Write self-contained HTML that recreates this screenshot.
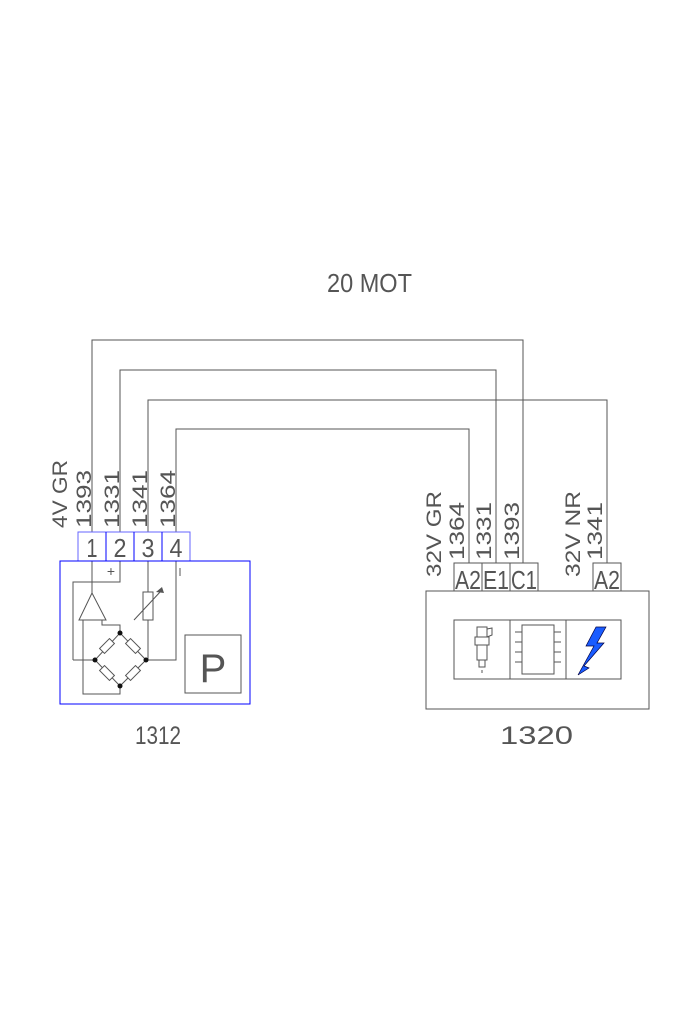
<!DOCTYPE html>
<html><head><meta charset="utf-8"><style>
html,body{margin:0;padding:0;background:#fff;}
svg{display:block;}
text{font-family:"Liberation Sans",sans-serif;fill:#555;}
</style></head><body>
<svg width="700" height="1020" viewBox="0 0 700 1020" xmlns="http://www.w3.org/2000/svg">
<g fill="none" stroke="#555" stroke-width="1">
<polyline points="92,532 92,340 523,340 523,563"/>
<polyline points="120,532 120,370 496,370 496,563"/>
<polyline points="148,532 148,400 607,400 607,563"/>
<polyline points="176,532 176,429 469,429 469,563"/>
<line x1="92" y1="561" x2="92" y2="593"/>
<polyline points="73,660 73,582 120,582 120,561"/>
<polygon points="92,593 79,620 106,620"/>
<polyline points="102,620 102,625 120,625 120,633"/>
<polyline points="83,620 83,694 120,694 120,686"/>
<line x1="73" y1="660" x2="95" y2="660"/>
<polygon points="120,633 95,660 120,686 146,660"/>
<line x1="148" y1="561" x2="148" y2="660"/>
<rect x="143" y="592" width="10" height="28" fill="#fff"/>
<line x1="134" y1="620" x2="161" y2="591"/>
<polyline points="146,660 176,660 176,561"/>
<rect x="185" y="635" width="56" height="58"/>
<line x1="180" y1="568" x2="180" y2="576"/>
<rect x="454" y="563" width="28" height="28"/>
<rect x="482" y="563" width="28" height="28"/>
<rect x="510" y="563" width="28" height="28"/>
<rect x="593" y="563" width="28" height="28"/>
<rect x="426" y="591" width="223" height="118"/>
<rect x="454" y="620" width="167" height="59"/>
<line x1="510" y1="620" x2="510" y2="679"/>
<line x1="566" y1="620" x2="566" y2="679"/>
<rect x="522" y="625" width="32" height="49"/>
<line x1="515" y1="632" x2="522" y2="632"/><line x1="515" y1="642" x2="522" y2="642"/><line x1="515" y1="652" x2="522" y2="652"/><line x1="515" y1="662" x2="522" y2="662"/>
<line x1="554" y1="632" x2="561" y2="632"/><line x1="554" y1="642" x2="561" y2="642"/><line x1="554" y1="652" x2="561" y2="652"/><line x1="554" y1="662" x2="561" y2="662"/>
<rect x="477" y="627" width="10" height="10"/>
<rect x="475" y="637" width="14" height="8"/>
<rect x="477" y="645" width="10" height="15"/>
<rect x="479" y="660" width="6" height="7"/>
<path d="M487,629 L492,628 L492,635 L487,637"/>
<line x1="482" y1="670" x2="482" y2="673"/>
</g>
<g fill="#fff" stroke="#555">
<rect x="-7" y="-3.5" width="14" height="7" transform="translate(107,646) rotate(-45)"/>
<rect x="-7" y="-3.5" width="14" height="7" transform="translate(133,646) rotate(45)"/>
<rect x="-7" y="-3.5" width="14" height="7" transform="translate(107,673) rotate(45)"/>
<rect x="-7" y="-3.5" width="14" height="7" transform="translate(133,673) rotate(-45)"/>
</g>
<g fill="#111"><circle cx="120" cy="633" r="2.5"/><circle cx="95" cy="660" r="2.5"/><circle cx="146" cy="660" r="2.5"/><circle cx="120" cy="686" r="2.5"/></g>
<path d="M164,593 L156,592 L162,587 Z" fill="#555"/>
<g fill="none" stroke="#00f">
<rect x="78" y="532" width="112" height="29" stroke="#66f"/>
<line x1="106" y1="532" x2="106" y2="561"/><line x1="134" y1="532" x2="134" y2="561"/><line x1="162" y1="532" x2="162" y2="561"/>
<rect x="60" y="561" width="190" height="143"/>
</g>
<polygon points="596,627 586,646 594,646 578,675 589,668 584,666 604,643 597,643 606,627" fill="#1a5cff" stroke="#004" stroke-width="0.7"/>
<g font-size="26">
<text x="92" y="557" text-anchor="middle" textLength="11" lengthAdjust="spacingAndGlyphs">1</text>
<text x="120" y="557" text-anchor="middle" textLength="13" lengthAdjust="spacingAndGlyphs">2</text>
<text x="148" y="557" text-anchor="middle" textLength="13" lengthAdjust="spacingAndGlyphs">3</text>
<text x="176" y="557" text-anchor="middle" textLength="13" lengthAdjust="spacingAndGlyphs">4</text>
<text x="468" y="589" text-anchor="middle" textLength="26" lengthAdjust="spacingAndGlyphs">A2</text>
<text x="496" y="589" text-anchor="middle" textLength="26" lengthAdjust="spacingAndGlyphs">E1</text>
<text x="524" y="589" text-anchor="middle" textLength="26" lengthAdjust="spacingAndGlyphs">C1</text>
<text x="607" y="589" text-anchor="middle" textLength="26" lengthAdjust="spacingAndGlyphs">A2</text>
</g>
<text x="111" y="576" text-anchor="middle" font-size="14">+</text>
<g font-size="21">
<text transform="translate(67,528) rotate(-90)" textLength="68" lengthAdjust="spacingAndGlyphs">4V GR</text>
<text transform="translate(91,528) rotate(-90)" textLength="58" lengthAdjust="spacingAndGlyphs">1393</text>
<text transform="translate(119,528) rotate(-90)" textLength="58" lengthAdjust="spacingAndGlyphs">1331</text>
<text transform="translate(147,528) rotate(-90)" textLength="58" lengthAdjust="spacingAndGlyphs">1341</text>
<text transform="translate(175,528) rotate(-90)" textLength="58" lengthAdjust="spacingAndGlyphs">1364</text>
<text transform="translate(441,577) rotate(-90)" textLength="86" lengthAdjust="spacingAndGlyphs">32V GR</text>
<text transform="translate(464,560) rotate(-90)" textLength="58" lengthAdjust="spacingAndGlyphs">1364</text>
<text transform="translate(491,560) rotate(-90)" textLength="58" lengthAdjust="spacingAndGlyphs">1331</text>
<text transform="translate(519,560) rotate(-90)" textLength="58" lengthAdjust="spacingAndGlyphs">1393</text>
<text transform="translate(580,577) rotate(-90)" textLength="86" lengthAdjust="spacingAndGlyphs">32V NR</text>
<text transform="translate(602,560) rotate(-90)" textLength="58" lengthAdjust="spacingAndGlyphs">1341</text>
</g>
<text x="327" y="292" font-size="26" textLength="85" lengthAdjust="spacingAndGlyphs">20 MOT</text>
<text x="135" y="744" font-size="25" textLength="46" lengthAdjust="spacingAndGlyphs">1312</text>
<text x="500" y="744" font-size="25" textLength="73" lengthAdjust="spacingAndGlyphs">1320</text>
<text x="213" y="682" font-size="40" text-anchor="middle" fill="#555">P</text>
</svg>
</body></html>
